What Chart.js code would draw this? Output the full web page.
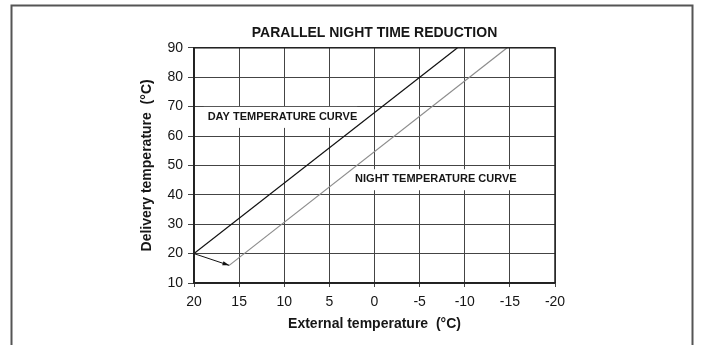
<!DOCTYPE html>
<html>
<head>
<meta charset="utf-8">
<script src="https://cdn.jsdelivr.net/npm/chart.js@4.4.1/dist/chart.umd.min.js"></script>
<style>
  html, body { margin: 0; padding: 0; background: #fff; }
  #wrap { width: 702px; height: 345px; }
</style>
</head>
<body>
<div id="wrap"><canvas id="nightChart" width="702" height="345"></canvas></div>
<script>
// Parallel night time reduction chart

// Curves: external temperature (°C) -> delivery temperature (°C)
const dayExternal = [20, -9.2];
const dayDelivery = [20, 90];
const nightExternal = [16.1, -14.7];
const nightDelivery = [16, 90];
const shiftExternal = [20, 16.1];
const shiftDelivery = [20, 16];

// Axis ticks
const xTicks = [20, 15, 10, 5, 0, -5, -10, -15, -20];
const yTicks = [10, 20, 30, 40, 50, 60, 70, 80, 90];

// Curve labels, placed in data units
const curveLabels = ['DAY TEMPERATURE CURVE', 'NIGHT TEMPERATURE CURVE'];
const labelExternal = [10.2, -6.8];
const labelDelivery = [66.5, 45.3];

const titleText = 'PARALLEL NIGHT TIME REDUCTION';
const xTitle = 'External temperature  (°C)';
const yTitle = 'Delivery temperature  (°C)';

const FONT = "'Liberation Sans Narrow', 'Liberation Sans', Arial, sans-serif";
const INK = '#161616';

function toPoints(xs, ys) {
    return xs.map((x, i) => ({ x: x, y: ys[i] }));
}

// White page with the outer frame
const framePlugin = {
    id: 'frame',
    beforeDraw(chart) {
        const c = chart.ctx;
        c.save();
        c.fillStyle = '#fff';
        c.fillRect(0, 0, chart.width, chart.height);
        c.strokeStyle = '#555';
        c.lineWidth = 2;
        c.strokeRect(11.5, 5.5, 681, 400);
        c.restore();
    }
};

// Curve names on a white patch, over the grid
const curveLabelPlugin = {
    id: 'curveLabels',
    beforeDatasetsDraw(chart) {
        const c = chart.ctx;
        const xs = chart.scales.x, ys = chart.scales.y;
        c.save();
        c.font = 'bold 11px ' + FONT;
        c.textAlign = 'center';
        c.textBaseline = 'middle';
        curveLabels.forEach((text, i) => {
            const px = xs.getPixelForValue(labelExternal[i]);
            const py = ys.getPixelForValue(labelDelivery[i]);
            const w = c.measureText(text).width;
            c.fillStyle = '#fff';
            c.fillRect(px - w / 2 - 4, py - 10, w + 4, 21);
            c.fillStyle = INK;
            c.fillText(text, px, py);
        });
        c.restore();
    }
};

// Arrow head on the day -> night shift, plus the plot border
const arrowPlugin = {
    id: 'arrowHead',
    afterDatasetsDraw(chart) {
        const c = chart.ctx;
        const pts = chart.getDatasetMeta(2).data;
        const a = pts[pts.length - 2], b = pts[pts.length - 1];
        const ang = Math.atan2(b.y - a.y, b.x - a.x);
        c.save();
        c.fillStyle = '#111';
        c.beginPath();
        c.moveTo(b.x, b.y);
        c.lineTo(b.x - 7 * Math.cos(ang - 0.3), b.y - 7 * Math.sin(ang - 0.3));
        c.lineTo(b.x - 7 * Math.cos(ang + 0.3), b.y - 7 * Math.sin(ang + 0.3));
        c.closePath();
        c.fill();
        const area = chart.chartArea;
        c.strokeStyle = '#222';
        c.lineWidth = 1.5;
        c.strokeRect(area.left, area.top, area.right - area.left, area.bottom - area.top);
        c.restore();
    }
};

const ctx = document.getElementById('nightChart');
new Chart(ctx, {
    type: 'line',
    data: {
        datasets: [{
            label: 'Day',
            data: toPoints(dayExternal, dayDelivery),
            borderColor: '#111',
            borderWidth: 1.2
        }, {
            label: 'Night',
            data: toPoints(nightExternal, nightDelivery),
            borderColor: '#8c8c8c',
            borderWidth: 1.2
        }, {
            label: 'Shift',
            data: toPoints(shiftExternal, shiftDelivery),
            borderColor: '#111',
            borderWidth: 1
        }]
    },
    options: {
        responsive: false,
        animation: false,
        elements: { point: { radius: 0 }, line: { tension: 0 } },
        layout: { padding: { left: 130, right: 147, top: 0, bottom: 12 } },
        plugins: {
            legend: { display: false },
            tooltip: { enabled: false },
            title: {
                display: true,
                text: titleText,
                fullSize: false,
                color: INK,
                font: { family: FONT, size: 14, weight: 'bold' },
                padding: { top: 25, bottom: 6 }
            }
        },
        scales: {
            x: {
                type: 'linear',
                min: -20,
                max: 20,
                reverse: true,
                afterBuildTicks: s => { s.ticks = xTicks.map(v => ({ value: v })); },
                afterFit: s => { s.height = 50; },
                ticks: {
                    color: INK,
                    padding: 7,
                    maxRotation: 0,
                    font: { family: FONT, size: 14 }
                },
                grid: { color: '#444', lineWidth: 1, tickLength: 4 },
                border: { color: '#222', width: 1.5 },
                title: {
                    display: true,
                    text: xTitle,
                    color: INK,
                    font: { family: FONT, size: 14, weight: 'bold' },
                    padding: { top: 0, bottom: 0 }
                }
            },
            y: {
                min: 10,
                max: 90,
                afterBuildTicks: s => { s.ticks = yTicks.map(v => ({ value: v })); },
                afterFit: s => { s.width = 64; },
                ticks: {
                    color: INK,
                    padding: 5,
                    font: { family: FONT, size: 14 }
                },
                grid: { color: '#444', lineWidth: 1, tickLength: 6 },
                border: { color: '#222', width: 1.5 },
                title: {
                    display: true,
                    text: yTitle,
                    color: INK,
                    font: { family: FONT, size: 14, weight: 'bold' },
                    padding: { top: 9, bottom: 0 }
                }
            }
        }
    },
    plugins: [framePlugin, curveLabelPlugin, arrowPlugin]
});
</script>
</body>
</html>
